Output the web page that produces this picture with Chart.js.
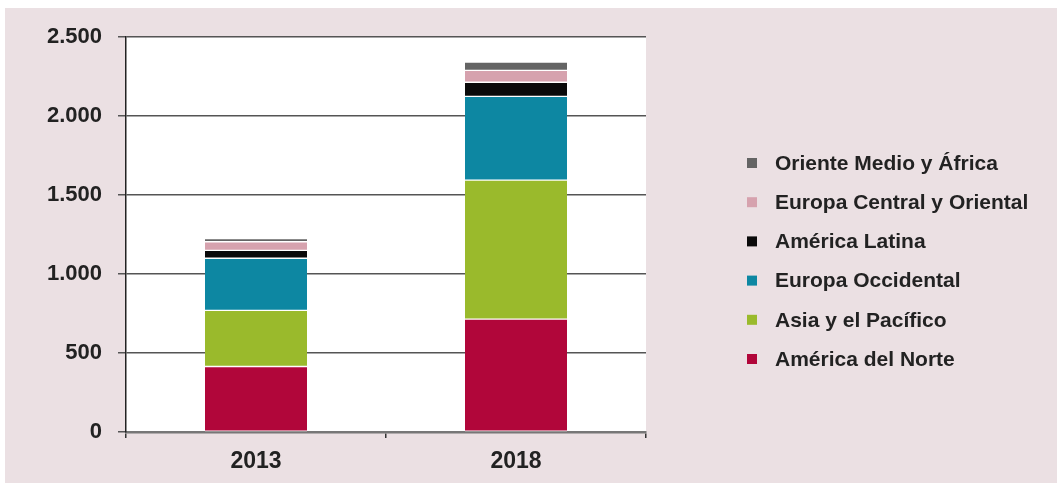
<!DOCTYPE html>
<html>
<head>
<meta charset="utf-8">
<script src="https://cdn.jsdelivr.net/npm/chart.js@4/dist/chart.umd.min.js"></script>
<style>
  body { margin: 0; background: #fff; }
  #panel { position: absolute; left: 5px; top: 8px; width: 1052px; height: 475px; background: #ebe0e3; }
</style>
</head>
<body>
<div id="panel"><canvas id="chart" width="1052" height="475"></canvas></div>
<script>
var years = ['2013', '2018']
var regions = ['América del Norte', 'Asia y el Pacífico', 'Europa Occidental', 'América Latina', 'Europa Central y Oriental', 'Oriente Medio y África']
var norteamerica = [415, 715]
var asiaPacifico = [355, 880]
var europaOccidental = [330, 530]
var americaLatina = [50, 90]
var europaCentral = [55, 75]
var orienteMedio = [20, 52]
var yTicks = [0, 500, 1000, 1500, 2000, 2500]

var colors = ['#b1063a', '#9aba2c', '#0d87a2', '#0a0a0a', '#d6a2ae', '#646464']
var series = [norteamerica, asiaPacifico, europaOccidental, americaLatina, europaCentral, orienteMedio]

var FONT = "'Liberation Sans', Arial, sans-serif"

function formatNumber(v) {
    return String(v).replace(/\B(?=(\d{3})+(?!\d))/g, '.')
}

var datasets = []
series.forEach(function (data, i) {
    datasets.push({
        label: regions[i],
        data: data,
        backgroundColor: colors[i],
        borderColor: '#ffffff',
        borderWidth: { top: 1, bottom: 1, left: 0, right: 0 },
        borderSkipped: false,
        barThickness: 102
    })
})

// white plot area on the pink panel
var plotBackground = {
    id: 'plotBackground',
    beforeDraw: function (chart) {
        var a = chart.chartArea
        var ctx = chart.ctx
        ctx.save()
        ctx.fillStyle = '#ffffff'
        ctx.fillRect(a.left, a.top, a.right - a.left, a.bottom - a.top)
        ctx.restore()
    }
}

// legend on the right, top item is the top segment of the stack
var sideLegend = {
    id: 'sideLegend',
    afterDraw: function (chart) {
        var ctx = chart.ctx
        var sets = chart.data.datasets.slice().reverse()
        ctx.save()
        ctx.font = 'bold 21px ' + FONT
        ctx.textBaseline = 'middle'
        sets.forEach(function (ds, i) {
            var y = 155 + i * 39.2
            ctx.fillStyle = ds.backgroundColor
            ctx.fillRect(742, y - 5, 10, 10)
            ctx.fillStyle = '#222'
            ctx.fillText(ds.label, 770, y + 1)
        })
        ctx.restore()
    }
}

new Chart(document.getElementById('chart'), {
    type: 'bar',
    data: {
        labels: years,
        datasets: datasets
    },
    plugins: [plotBackground, sideLegend],
    options: {
        responsive: false,
        animation: false,
        layout: { padding: { left: 0, top: 28, right: 411, bottom: 0 } },
        plugins: {
            legend: { display: false },
            tooltip: { enabled: false }
        },
        scales: {
            x: {
                stacked: true,
                afterFit: function (scale) { scale.height = 51 },
                grid: {
                    display: true,
                    drawOnChartArea: false,
                    offset: true,
                    tickLength: 6,
                    color: '#333',
                    lineWidth: 1.5
                },
                border: { display: true, color: '#777', width: 2.5 },
                ticks: {
                    color: '#222',
                    padding: 10,
                    font: { family: FONT, size: 23, weight: 'bold' }
                }
            },
            y: {
                stacked: true,
                min: 0,
                max: 2500,
                afterFit: function (scale) { scale.width = 121 },
                afterBuildTicks: function (scale) {
                    scale.ticks = yTicks.map(function (v) { return { value: v } })
                },
                grid: {
                    color: '#555',
                    lineWidth: 1.5,
                    tickLength: 8
                },
                border: { display: true, color: '#222', width: 1.5 },
                ticks: {
                    color: '#222',
                    padding: 16,
                    font: { family: FONT, size: 22, weight: 'bold' },
                    callback: function (v) { return formatNumber(v) }
                }
            }
        }
    }
})
</script>
</body>
</html>
